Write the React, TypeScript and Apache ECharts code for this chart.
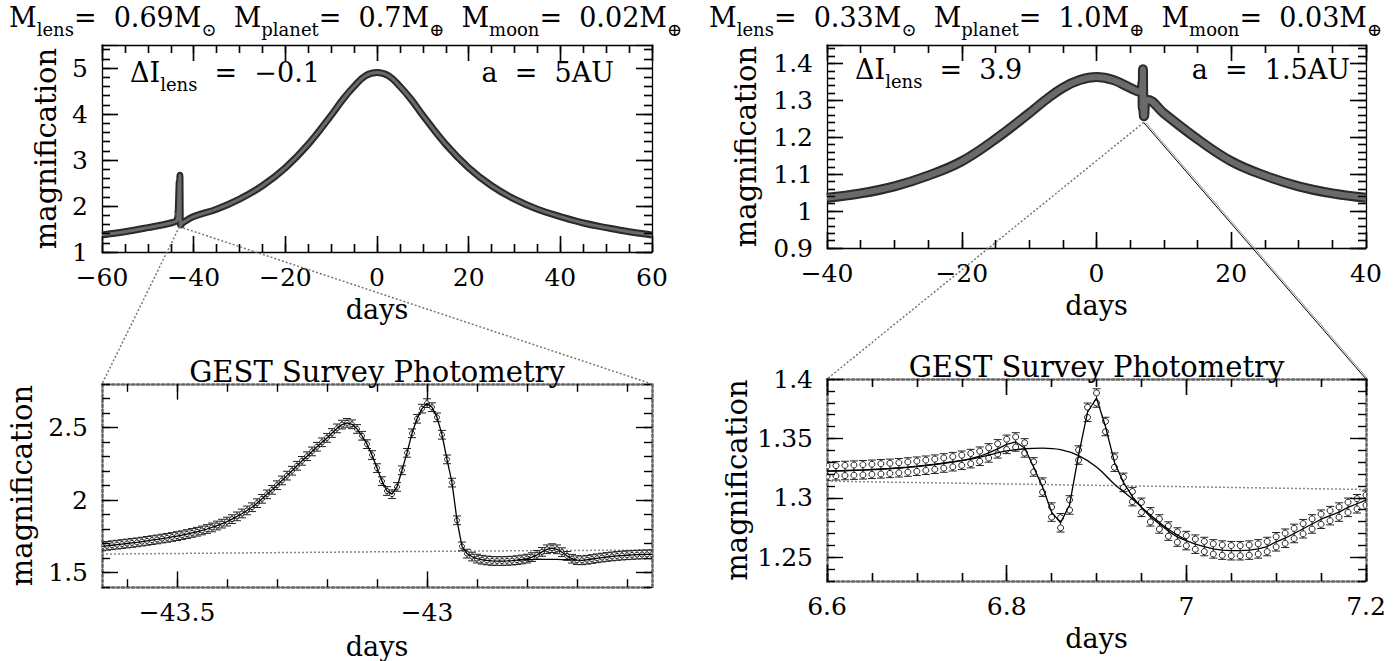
import React, { useEffect, useRef } from "react";
import * as echarts from "echarts";

const FONT = "DejaVu Serif";

// ---- top-left panel: full light curve (days, magnification)
const tlDays = [-60, -55, -50, -45, -40, -35, -30, -25, -20, -15, -10, -7.5, -5, -2.5, 0, 2.5, 5, 7.5, 10, 15, 20, 25, 30, 35, 40, 45, 50, 55, 60];
const tlMag = [1.37, 1.44, 1.53, 1.63, 1.77, 1.93, 2.15, 2.44, 2.83, 3.34, 3.97, 4.31, 4.6, 4.83, 4.9, 4.83, 4.6, 4.31, 3.97, 3.34, 2.83, 2.44, 2.15, 1.93, 1.77, 1.63, 1.53, 1.44, 1.37];

// ---- top-right panel: full light curve
const trDays = [-40, -35, -30, -25, -20, -15, -10, -7.5, -5, -2.5, 0, 2.5, 5, 7.5, 10, 15, 20, 25, 30, 35, 40];
const trMag = [1.036, 1.048, 1.067, 1.096, 1.135, 1.195, 1.265, 1.302, 1.334, 1.355, 1.363, 1.355, 1.334, 1.302, 1.265, 1.195, 1.135, 1.096, 1.067, 1.048, 1.036];

// ---- bottom-left panel: GEST photometry of the left event
const blDays = [
  -43.65, -43.64, -43.63, -43.62, -43.61, -43.6, -43.59, -43.58, -43.57, -43.56,
  -43.55, -43.54, -43.53, -43.52, -43.51, -43.5, -43.49, -43.48, -43.47, -43.46,
  -43.45, -43.44, -43.43, -43.42, -43.41, -43.4, -43.39, -43.38, -43.37, -43.36,
  -43.35, -43.34, -43.33, -43.32, -43.31, -43.3, -43.29, -43.28, -43.27, -43.26,
  -43.25, -43.24, -43.23, -43.22, -43.21, -43.2, -43.19, -43.18, -43.17, -43.16,
  -43.15, -43.14, -43.13, -43.12, -43.11, -43.1, -43.09, -43.08, -43.07, -43.06,
  -43.05, -43.04, -43.03, -43.02, -43.01, -43.0, -42.99, -42.98, -42.97, -42.96,
  -42.95, -42.94, -42.93, -42.92, -42.91, -42.9, -42.89, -42.88, -42.87, -42.86,
  -42.85, -42.84, -42.83, -42.82, -42.81, -42.8, -42.79, -42.78, -42.77, -42.76,
  -42.75, -42.74, -42.73, -42.72, -42.71, -42.7, -42.69, -42.68, -42.67, -42.66,
  -42.65, -42.64, -42.63, -42.62, -42.61, -42.6, -42.59, -42.58, -42.57, -42.56,
  -42.55,
];
const blMag = [
  1.68, 1.684, 1.688, 1.692, 1.696, 1.7, 1.704, 1.708, 1.713, 1.718,
  1.723, 1.728, 1.734, 1.739, 1.745, 1.751, 1.757, 1.765, 1.773, 1.781,
  1.79, 1.8, 1.811, 1.824, 1.837, 1.851, 1.868, 1.887, 1.907, 1.928,
  1.95, 1.978, 2.008, 2.039, 2.07, 2.102, 2.135, 2.168, 2.202, 2.236,
  2.27, 2.302, 2.335, 2.367, 2.398, 2.428, 2.462, 2.494, 2.52, 2.532,
  2.522, 2.49, 2.443, 2.385, 2.31, 2.22, 2.13, 2.062, 2.04, 2.09,
  2.205, 2.325, 2.46, 2.56, 2.63, 2.668, 2.64, 2.57, 2.45, 2.28,
  2.12, 1.86, 1.68, 1.63, 1.61, 1.596, 1.588, 1.583, 1.58, 1.579,
  1.579, 1.58, 1.582, 1.585, 1.59, 1.596, 1.606, 1.622, 1.642, 1.66,
  1.668, 1.66, 1.64, 1.615, 1.595, 1.585, 1.584, 1.588, 1.593, 1.598,
  1.603, 1.607, 1.611, 1.614, 1.617, 1.619, 1.621, 1.623, 1.624, 1.625,
  1.626,
];
const blNoMoonDays = [-42.82, -42.8, -42.78, -42.76, -42.74, -42.72, -42.7];
const blNoMoonMag = [1.585, 1.588, 1.59, 1.591, 1.59, 1.588, 1.585];
const blSingleDays = [-43.65, -43.2, -42.9, -42.55];
const blSingleMag = [1.627, 1.64, 1.648, 1.655];

// ---- bottom-right panel: GEST photometry of the right event
const brDays = [
  6.6, 6.61, 6.62, 6.63, 6.64, 6.65, 6.66, 6.67, 6.68, 6.69,
  6.7, 6.71, 6.72, 6.73, 6.74, 6.75, 6.76, 6.77, 6.78, 6.79,
  6.8, 6.81, 6.82, 6.83, 6.84, 6.85, 6.86, 6.87, 6.88, 6.89,
  6.9, 6.91, 6.92, 6.93, 6.94, 6.95, 6.96, 6.97, 6.98, 6.99,
  7.0, 7.01, 7.02, 7.03, 7.04, 7.05, 7.06, 7.07, 7.08, 7.09,
  7.1, 7.11, 7.12, 7.13, 7.14, 7.15, 7.16, 7.17, 7.18, 7.19,
  7.2,
];
const brMag = [
  1.3225, 1.3228, 1.323, 1.3233, 1.3236, 1.324, 1.3244, 1.3248, 1.3253, 1.3259,
  1.3266, 1.3274, 1.3283, 1.3293, 1.3304, 1.3316, 1.333, 1.335, 1.3378, 1.3412,
  1.345, 1.347, 1.342, 1.326, 1.309, 1.288, 1.279, 1.294, 1.336, 1.372,
  1.384, 1.36, 1.33, 1.313, 1.301, 1.292, 1.284, 1.278, 1.272, 1.267,
  1.264, 1.261, 1.259, 1.257, 1.256, 1.2555, 1.2555, 1.256, 1.257, 1.259,
  1.263, 1.266, 1.27, 1.274, 1.278, 1.282, 1.285, 1.288, 1.292, 1.295,
  1.298,
];
const brNoMoonDays = [6.6, 6.66, 6.7, 6.74, 6.76, 6.78, 6.8, 6.82, 6.84, 6.86, 6.88, 6.9, 6.92, 6.94, 6.96, 6.98, 7.0];
const brNoMoonMag = [1.3225, 1.324, 1.3262, 1.33, 1.3325, 1.336, 1.3395, 1.3413, 1.3418, 1.3405, 1.3355, 1.326, 1.3115, 1.299, 1.2855, 1.2735, 1.2645];
const brSingleDays = [6.6, 7.2];
const brSingleMag = [1.314, 1.307];

// ---- tick labels
const tlXLabels = [-60, -40, -20, 0, 20, 40, 60];
const tlYLabels = [1, 2, 3, 4, 5];
const trXLabels = [-40, -20, 0, 20, 40];
const trYLabels = [0.9, 1, 1.1, 1.2, 1.3, 1.4];
const blXLabels = [-43.5, -43];
const blYLabels = [1.5, 2, 2.5];
const brXLabels = [6.6, 6.8, 7, 7.2];
const brYLabels = [1.25, 1.3, 1.35, 1.4];

const zip = (a: number[], b: number[]) => a.map((v, i) => [v, b[i]]);
const steps = (start: number, step: number, n: number) =>
  Array.from({ length: n }, (_, i) => +(start + i * step).toFixed(4));
const fmt = (v: number) => String(+(+v).toFixed(3)).replace("-", "\u2212");

const PANELS = [
  { grid: { left: 102, top: 45, width: 550, height: 207 }, x: [-60, 60], y: [1, 5.5],
    xMaj: tlXLabels, xMin: steps(-60, 5, 25), xLab: tlXLabels,
    yMaj: tlYLabels, yMin: steps(1, 0.2, 23), yLab: tlYLabels, dotted: false, xGap: 44, yGap: 42,
    xInt: 20, xSplit: 4, yInt: 1, ySplit: 5 },
  { grid: { left: 827, top: 45, width: 539, height: 203 }, x: [-40, 40], y: [0.9, 1.45],
    xMaj: trXLabels, xMin: steps(-40, 5, 17), xLab: trXLabels,
    yMaj: trYLabels, yMin: steps(0.9, 0.02, 28), yLab: trYLabels, dotted: false, xGap: 44, yGap: 67,
    xInt: 20, xSplit: 4, yInt: 0.1, ySplit: 5 },
  { grid: { left: 102, top: 384, width: 550, height: 208 }, x: [-43.65, -42.55], y: [1.4, 2.8],
    xMaj: blXLabels, xMin: steps(-43.6, 0.1, 11), xLab: blXLabels,
    yMaj: blYLabels, yMin: steps(1.4, 0.1, 15), yLab: blYLabels, dotted: true, xGap: 46, yGap: 66,
    xInt: 0, xSplit: 0, yInt: 0, ySplit: 0 },
  { grid: { left: 827, top: 379, width: 539, height: 202 }, x: [6.6, 7.2], y: [1.23, 1.4],
    xMaj: brXLabels, xMin: steps(6.6, 0.05, 13), xLab: brXLabels,
    yMaj: brYLabels, yMin: steps(1.23, 0.01, 18), yLab: brYLabels, dotted: true, xGap: 44, yGap: 76,
    xInt: 0.2, xSplit: 4, yInt: 0, ySplit: 0 },
];

const RICH = {
  n: { fontFamily: FONT, fontSize: 27, lineHeight: 28, padding: [0, 0, 7, 0], verticalAlign: "bottom", fill: "#000", color: "#000" },
  s: { fontFamily: FONT, fontSize: 18, lineHeight: 19, verticalAlign: "bottom", fill: "#000", color: "#000" },
};

const TICK_MAJ = 16;
const TICK_MIN = 8;

function builtinTicks(int: number, split: number) {
  if (!int) return { axisTick: { show: false }, minorTick: { show: false } };
  return {
    interval: int,
    axisTick: { show: true, inside: true, length: TICK_MAJ, lineStyle: { color: "#000", width: 1.3 } },
    minorTick: { show: true, splitNumber: split, length: TICK_MIN, lineStyle: { color: "#000", width: 1.3 } },
  };
}

function buildAxes() {
  const xAxis: any[] = [];
  const yAxis: any[] = [];
  PANELS.forEach((p, g) => {
    const border = p.dotted
      ? { color: "#666", width: 2.5, type: "dotted" }
      : { color: "#000", width: 1.3 };
    const lab = { fontFamily: FONT, fontSize: 25, color: "#000", formatter: fmt, showMinLabel: true, showMaxLabel: true };
    const base = { type: "value", gridIndex: g, splitLine: { show: false }, minorSplitLine: { show: false } };
    const xt = builtinTicks(p.xInt, p.xSplit);
    const yt = builtinTicks(p.yInt, p.ySplit);
    xAxis.push(
      { ...base, ...xt, min: p.x[0], max: p.x[1], position: "bottom",
        axisLine: { show: true, onZero: false, lineStyle: border },
        axisLabel: { ...lab, margin: 13, customValues: p.xLab },
        name: "days", nameLocation: "middle", nameGap: p.xGap,
        nameTextStyle: { fontFamily: FONT, fontSize: 27, color: "#000" } },
      { ...base, ...xt, min: p.x[0], max: p.x[1], position: "top",
        axisLine: { show: true, onZero: false, lineStyle: border }, axisLabel: { show: false } },
    );
    yAxis.push(
      { ...base, ...yt, min: p.y[0], max: p.y[1], position: "left",
        axisLine: { show: true, onZero: false, lineStyle: border },
        axisLabel: { ...lab, margin: 14, customValues: p.yLab },
        name: "magnification", nameLocation: "middle", nameGap: p.yGap, nameRotate: 90,
        nameTextStyle: { fontFamily: FONT, fontSize: 29, color: "#000" } },
      { ...base, ...yt, min: p.y[0], max: p.y[1], position: "right",
        axisLine: { show: true, onZero: false, lineStyle: border }, axisLabel: { show: false } },
    );
  });
  return { xAxis, yAxis };
}

// tick marks as segments in data units (lengths converted from pixels with the panel's scale)
function tickLinesSeries(g: number) {
  const p = PANELS[g];
  const dyPerPx = (p.y[1] - p.y[0]) / p.grid.height;
  const dxPerPx = (p.x[1] - p.x[0]) / p.grid.width;
  const data: any[] = [];
  const xt = (vals: number[], L: number) => vals.forEach((v) => {
    data.push({ coords: [[v, p.y[0]], [v, p.y[0] + L * dyPerPx]] });
    data.push({ coords: [[v, p.y[1]], [v, p.y[1] - L * dyPerPx]] });
  });
  const yt = (vals: number[], L: number) => vals.forEach((v) => {
    data.push({ coords: [[p.x[0], v], [p.x[0] + L * dxPerPx, v]] });
    data.push({ coords: [[p.x[1], v], [p.x[1] - L * dxPerPx, v]] });
  });
  xt(p.xMin, TICK_MIN);
  xt(p.xMaj, TICK_MAJ);
  yt(p.yMin, TICK_MIN);
  yt(p.yMaj, TICK_MAJ);
  return {
    type: "lines", coordinateSystem: "cartesian2d", xAxisIndex: g * 2, yAxisIndex: g * 2,
    polyline: false, clip: false, silent: true, z: 20, data,
    lineStyle: { color: "#000", width: 1.4, opacity: 1, curveness: 0 },
    effect: { show: false },
  };
}

const errBar = (err: number, cap: number, r: number, ringAt: number) => (params: any, api: any) => {
  const x = api.value(0);
  const y = api.value(1);
  const c = api.coord([x, y]);
  const t = api.coord([x, y + err]);
  const b = api.coord([x, y - err]);
  const st = { stroke: "#222", lineWidth: 1, fill: null };
  const ring = { stroke: "#222", fill: "#fff", lineWidth: 1 };
  const children: any[] = [
    { type: "line", shape: { x1: c[0], y1: t[1], x2: c[0], y2: b[1] }, style: st },
    { type: "line", shape: { x1: c[0] - cap, y1: t[1], x2: c[0] + cap, y2: t[1] }, style: st },
    { type: "line", shape: { x1: c[0] - cap, y1: b[1], x2: c[0] + cap, y2: b[1] }, style: st },
  ];
  if (ringAt > 0) {
    const rt = api.coord([x, y + err * ringAt]);
    const rb = api.coord([x, y - err * ringAt]);
    children.push(
      { type: "circle", shape: { cx: c[0], cy: rt[1], r }, style: ring },
      { type: "circle", shape: { cx: c[0], cy: rb[1], r }, style: ring },
    );
  } else {
    children.push({ type: "circle", shape: { cx: c[0], cy: c[1], r }, style: ring });
  }
  return { type: "group", children };
};

function bandSeries(ai: number, data: number[][], width: number) {
  return [
    { type: "line", xAxisIndex: ai, yAxisIndex: ai, data, showSymbol: false, smooth: 0.4,
      lineStyle: { color: "#2a2a2a", width }, silent: true, z: 2 },
    { type: "line", xAxisIndex: ai, yAxisIndex: ai, data, showSymbol: false, smooth: 0.4,
      lineStyle: { color: "#6a6a6a", width: Math.max(2, width - 4) }, silent: true, z: 3 },
  ];
}

function merge(cd: number[], cm: number[], dd: number[], dm: number[]) {
  const coarse = zip(cd, cm);
  const lo = dd[0];
  const hi = dd[dd.length - 1];
  return [
    ...coarse.filter((p) => p[0] < lo),
    ...zip(dd, dm),
    ...coarse.filter((p) => p[0] > hi),
  ];
}

export default function App() {
  const ref = useRef<HTMLDivElement>(null);
  useEffect(() => {
    if (!ref.current) return;
    const chart = echarts.init(ref.current, undefined, { renderer: "svg" });
    const { xAxis, yAxis } = buildAxes();
    const series: any[] = [
      ...bandSeries(0, merge(tlDays, tlMag, blDays, blMag), 7),
      ...bandSeries(2, merge(trDays, trMag, brDays, brMag), 10),
      { type: "line", xAxisIndex: 4, yAxisIndex: 4, data: zip(blSingleDays, blSingleMag), showSymbol: false,
        lineStyle: { color: "#888", width: 1.5, type: [2, 2] }, silent: true, z: 2 },
      { type: "custom", xAxisIndex: 4, yAxisIndex: 4, data: zip(blDays, blMag), renderItem: errBar(0.03, 4, 2.5, 0),
        clip: true, silent: true, z: 3 },
      { type: "line", xAxisIndex: 4, yAxisIndex: 4, data: zip(blDays, blMag), showSymbol: false,
        lineStyle: { color: "#000", width: 1.3 }, silent: true, z: 4 },
      { type: "line", xAxisIndex: 4, yAxisIndex: 4, data: zip(blNoMoonDays, blNoMoonMag), showSymbol: false, smooth: 0.3,
        lineStyle: { color: "#000", width: 1.3 }, silent: true, z: 4 },
      { type: "line", xAxisIndex: 6, yAxisIndex: 6, data: zip(brSingleDays, brSingleMag), showSymbol: false,
        lineStyle: { color: "#888", width: 1.5, type: [2, 2] }, silent: true, z: 2 },
      { type: "custom", xAxisIndex: 6, yAxisIndex: 6, data: zip(brDays, brMag), renderItem: errBar(0.0078, 4, 3, 0.55),
        clip: true, silent: true, z: 3 },
      { type: "line", xAxisIndex: 6, yAxisIndex: 6, data: zip(brDays, brMag), showSymbol: false,
        lineStyle: { color: "#000", width: 1.3 }, silent: true, z: 4 },
      { type: "line", xAxisIndex: 6, yAxisIndex: 6, data: zip(brNoMoonDays, brNoMoonMag), showSymbol: false, smooth: 0.4,
        lineStyle: { color: "#000", width: 1.3 }, silent: true, z: 4 },
      ...PANELS.map((_, g) => tickLinesSeries(g)),
    ];
    chart.setOption({
      animation: false,
      backgroundColor: "#fff",
      grid: PANELS.map((p) => ({ ...p.grid, containLabel: false })),
      xAxis,
      yAxis,
      series,
    });

    const px = (ai: number, v: number[]) => chart.convertToPixel({ xAxisIndex: ai, yAxisIndex: ai }, v) as number[];
    const apexL = px(0, [-43.1, 1.55]);
    const blTL = px(4, [PANELS[2].x[0], PANELS[2].y[1]]);
    const blTR = px(4, [PANELS[2].x[1], PANELS[2].y[1]]);
    const apexR = px(2, [7.0, 1.24]);
    const brTL = px(6, [PANELS[3].x[0], PANELS[3].y[1]]);
    const brTR = px(6, [PANELS[3].x[1], PANELS[3].y[1]]);
    const dash = { stroke: "#777", lineWidth: 1.5, lineDash: [2, 2] };
    const txt = (id: string, x: number, y: number, text: string, align = "left", va = "top", rich = true) => ({
      id, type: "text", x, y, z: 50,
      style: rich
        ? { text, rich: RICH, align, verticalAlign: va, textAlign: align, textVerticalAlign: va }
        : { text, font: `29px "${FONT}"`, fill: "#000", align, verticalAlign: va, textAlign: align, textVerticalAlign: va },
    });
    const gestL = px(4, [(PANELS[2].x[0] + PANELS[2].x[1]) / 2, PANELS[2].y[1]]);
    const gestR = px(6, [(PANELS[3].x[0] + PANELS[3].x[1]) / 2, PANELS[3].y[1]]);
    chart.setOption({
      graphic: [
        txt("t1", 9, 10, "{n|M}{s|lens}{n|=  0.69M}{s|\u2299}{n|  M}{s|planet}{n|=  0.7M}{s|\u2295}{n|  M}{s|moon}{n|=  0.02M}{s|\u2295}"),
        txt("t2", 709, 10, "{n|M}{s|lens}{n|=  0.33M}{s|\u2299}{n|  M}{s|planet}{n|=  1.0M}{s|\u2295}{n|  M}{s|moon}{n|=  0.03M}{s|\u2295}"),
        txt("d1", 130, 65, "{n|\u0394I}{s|lens}{n|  =  \u22120.1}"),
        txt("a1", 614, 65, "{n|a  =  5AU}", "right"),
        txt("d2", 855, 62, "{n|\u0394I}{s|lens}{n|  =  3.9}"),
        txt("a2", 1350, 62, "{n|a  =  1.5AU}", "right"),
        txt("g1", gestL[0], gestL[1] + 2, "GEST Survey Photometry", "center", "bottom", false),
        txt("g2", gestR[0], gestR[1] + 2, "GEST Survey Photometry", "center", "bottom", false),
        { id: "c1", type: "line", z: 40, shape: { x1: apexL[0], y1: apexL[1], x2: blTL[0], y2: blTL[1] }, style: dash },
        { id: "c2", type: "line", z: 40, shape: { x1: apexL[0], y1: apexL[1], x2: blTR[0], y2: blTR[1] }, style: dash },
        { id: "c3", type: "line", z: 40, shape: { x1: apexR[0], y1: apexR[1], x2: brTL[0], y2: brTL[1] }, style: dash },
        { id: "c4", type: "line", z: 40, shape: { x1: apexR[0], y1: apexR[1], x2: brTR[0], y2: brTR[1] }, style: { stroke: "#000", lineWidth: 1 } },
        { id: "c5", type: "line", z: 40, shape: { x1: apexR[0] + 2, y1: apexR[1], x2: brTR[0] + 2, y2: brTR[1] }, style: { stroke: "#999", lineWidth: 1 } },
      ],
    });
    return () => chart.dispose();
  }, []);
  return <div ref={ref} style={{ position: "absolute", left: 0, top: 0, width: 1395, height: 661 }} />;
}
